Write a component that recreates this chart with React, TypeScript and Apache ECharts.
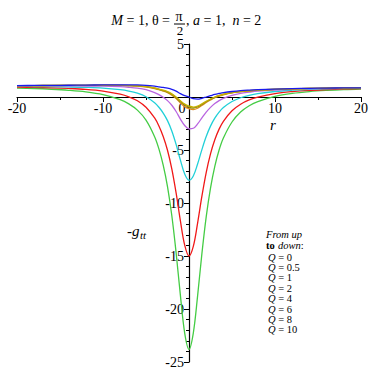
import React, { useEffect, useRef } from "react";
import * as echarts from "echarts";

const rValues = [-20, -18, -16, -14, -12, -10, -8, -7, -6, -5, -4, -3.5, -3, -2.5, -2, -1.5, -1, -0.5, 0, 0.5, 1, 1.5, 2, 2.5, 3, 3.5, 4, 5, 6, 7, 8, 10, 12, 14, 16, 18, 20];

const qLabels = ["0", "0.5", "1", "2", "4", "6", "8", "10"];

const gttQ0 = [1.08, 1.09, 1.10, 1.11, 1.12, 1.14, 1.15, 1.15, 1.14, 1.10, 1.02, 0.96, 0.90, 0.83, 0.72, 0.55, 0.32, 0.13, 0, -0.16, -0.20, -0.12, 0, 0.12, 0.24, 0.33, 0.41, 0.52, 0.60, 0.65, 0.69, 0.75, 0.79, 0.82, 0.84, 0.86, 0.87];
const gttQ05 = [1.07, 1.08, 1.09, 1.09, 1.10, 1.11, 1.10, 1.09, 1.06, 0.98, 0.85, 0.75, 0.64, 0.50, 0.30, 0.01, -0.36, -0.67, -0.85, -0.95, -0.86, -0.64, -0.40, -0.19, 0.00, 0.14, 0.26, 0.42, 0.53, 0.60, 0.65, 0.73, 0.77, 0.81, 0.83, 0.85, 0.87];
const gttQ1 = [1.07, 1.08, 1.09, 1.09, 1.09, 1.10, 1.09, 1.08, 1.045, 0.97, 0.83, 0.73, 0.61, 0.46, 0.245, -0.06, -0.44, -0.76, -0.95, -1.04, -0.94, -0.71, -0.45, -0.23, -0.03, 0.12, 0.24, 0.41, 0.52, 0.59, 0.645, 0.72, 0.77, 0.81, 0.83, 0.85, 0.865];
const gttQ2 = [1.07, 1.08, 1.08, 1.09, 1.09, 1.10, 1.09, 1.07, 1.03, 0.95, 0.80, 0.69, 0.56, 0.40, 0.17, -0.15, -0.56, -0.91, -1.10, -1.18, -1.06, -0.80, -0.52, -0.28, -0.07, 0.08, 0.21, 0.39, 0.51, 0.58, 0.64, 0.72, 0.77, 0.81, 0.83, 0.85, 0.86];
const gttQ4 = [1.05, 1.05, 1.05, 1.05, 1.04, 1.02, 0.97, 0.92, 0.84, 0.69, 0.42, 0.22, -0.02, -0.34, -0.78, -1.37, -2.08, -2.69, -3.0, -2.95, -2.54, -1.97, -1.43, -0.98, -0.62, -0.34, -0.13, 0.16, 0.35, 0.46, 0.55, 0.66, 0.73, 0.78, 0.81, 0.84, 0.855];
const gttQ6 = [1.00, 0.99, 0.98, 0.95, 0.91, 0.84, 0.69, 0.56, 0.355, 0.02, -0.55, -0.97, -1.52, -2.23, -3.2, -4.47, -5.96, -7.26, -7.85, -7.45, -6.32, -4.96, -3.73, -2.75, -2.0, -1.43, -1.0, -0.43, -0.07, 0.16, 0.32, 0.52, 0.64, 0.72, 0.77, 0.81, 0.83];
const gttQ8 = [0.93, 0.91, 0.87, 0.81, 0.72, 0.56, 0.27, 0.02, -0.36, -0.97, -1.98, -2.73, -3.72, -5.02, -6.78, -9.05, -11.68, -13.98, -15.0, -14.1, -11.9, -9.36, -7.13, -5.37, -4.04, -3.03, -2.29, -1.30, -0.68, -0.28, -0.02, 0.32, 0.51, 0.63, 0.70, 0.76, 0.80];
const gttQ10 = [0.84, 0.80, 0.73, 0.63, 0.48, 0.22, -0.25, -0.65, -1.24, -2.18, -3.74, -4.89, -6.43, -8.45, -11.18, -14.68, -18.72, -22.27, -23.8, -22.27, -18.76, -14.78, -11.31, -8.59, -6.54, -5.0, -3.87, -2.36, -1.42, -0.83, -0.43, 0.06, 0.34, 0.51, 0.62, 0.70, 0.75];

const seriesValues = [gttQ0, gttQ05, gttQ1, gttQ2, gttQ4, gttQ6, gttQ8, gttQ10];
const seriesColors = ["#1a1aee", "#c8b000", "#8a8a10", "#e08a20", "#b964e0", "#20d0d8", "#f01818", "#44cc44"];

const xTicks = [-20, -10, 0, 10, 20];
const yTicks = [5, -5, -10, -15, -20, -25];

const SERIF = "Liberation Serif, Times New Roman, serif";

// plot frame (pixels)
const PLOT_LEFT = 17;
const PLOT_RIGHT = 361;
const PLOT_TOP = 44;
const PLOT_BOTTOM = 362;
const X_MIN = -20, X_MAX = 20, Y_MIN = -25, Y_MAX = 5;

export default function App() {
  const ref = useRef<HTMLDivElement>(null);
  useEffect(() => {
    const chart = echarts.init(ref.current!, null, { renderer: "svg" });
    const series: any[] = [];
    for (let k = seriesValues.length - 1; k >= 0; k--) {
      series.push({
        type: "line",
        name: "Q = " + qLabels[k],
        data: rValues.map((r, i) => [r, seriesValues[k][i]]),
        showSymbol: false,
        smooth: 0.35,
        lineStyle: { color: seriesColors[k], width: 1.3 },
        itemStyle: { color: seriesColors[k] },
        z: 2 + (seriesValues.length - k),
      });
    }

    // offsets so that the axes cross at the origin
    const yZeroPx = PLOT_TOP + ((Y_MAX - 0) / (Y_MAX - Y_MIN)) * (PLOT_BOTTOM - PLOT_TOP);
    const xZeroPx = PLOT_LEFT + ((0 - X_MIN) / (X_MAX - X_MIN)) * (PLOT_RIGHT - PLOT_LEFT);
    const xAxisOffset = -(PLOT_BOTTOM - yZeroPx);
    const yAxisOffset = -(xZeroPx - PLOT_LEFT);

    const lg = (extra: any) => ({ fontFamily: SERIF, fontSize: 10.5, lineHeight: 10.4, fill: "#000", ...extra });

    const legendText = [
      "{i|From up}",
      "{bb|to} {i|down}{n|:}",
      ...qLabels.map((q) => "{qi|Q}{n| = " + q + "}"),
    ].join("\n");

    const option: any = {
      animation: false,
      backgroundColor: "#fff",
      grid: {
        left: PLOT_LEFT,
        right: 374 - PLOT_RIGHT,
        top: PLOT_TOP,
        bottom: 374 - PLOT_BOTTOM,
        containLabel: false,
        outerBoundsMode: "none",
      },
      xAxis: {
        type: "value",
        min: X_MIN,
        max: X_MAX,
        interval: 10,
        position: "bottom",
        offset: xAxisOffset,
        axisLine: { onZero: false, lineStyle: { color: "#000", width: 1.2 } },
        axisTick: { show: true, length: 5, lineStyle: { color: "#000" } },
        minorTick: { show: true, splitNumber: 2, length: 3, lineStyle: { color: "#000" } },
        splitLine: { show: false },
        axisLabel: {
          margin: 5,
          fontFamily: SERIF,
          fontSize: 14,
          lineHeight: 12,
          color: "#000",
          formatter: (v: number) => (xTicks.includes(v) ? (v === 0 ? "{z|0}" : String(v)) : ""),
          rich: { z: { fontFamily: SERIF, fontSize: 14, lineHeight: 12, color: "#000", padding: [0, 14, 0, 0] } },
        },
      },
      yAxis: {
        type: "value",
        min: Y_MIN,
        max: Y_MAX,
        interval: 5,
        position: "left",
        offset: yAxisOffset,
        axisLine: { onZero: false, lineStyle: { color: "#000", width: 1.2 } },
        axisTick: { show: true, length: 5, lineStyle: { color: "#000" } },
        minorTick: { show: true, splitNumber: 5, length: 3, lineStyle: { color: "#000" } },
        splitLine: { show: false },
        axisLabel: {
          margin: 5,
          fontFamily: SERIF,
          fontSize: 14,
          lineHeight: 12,
          color: "#000",
          formatter: (v: number) => (yTicks.includes(v) ? String(v) : ""),
        },
      },
      series,
      graphic: [
        {
          type: "text",
          x: 170,
          y: 20,
          style: {
            text: "{i|M}{n| = 1, θ =}",
            align: "right",
            verticalAlign: "middle",
            rich: {
              i: { fontFamily: SERIF, fontStyle: "italic", fontSize: 14, lineHeight: 12, fill: "#000" },
              n: { fontFamily: SERIF, fontSize: 14, lineHeight: 12, fill: "#000" },
            },
          },
        },
        {
          type: "text",
          x: 179,
          y: 16.5,
          style: { text: "π", align: "center", verticalAlign: "middle", fontFamily: SERIF, fontSize: 14, lineHeight: 10, fill: "#000" },
        },
        {
          type: "line",
          shape: { x1: 174, y1: 24, x2: 185, y2: 24 },
          style: { stroke: "#000", lineWidth: 1 },
        },
        {
          type: "text",
          x: 180,
          y: 30.5,
          style: { text: "2", align: "center", verticalAlign: "middle", fontFamily: SERIF, fontSize: 13, lineHeight: 10, fill: "#000" },
        },
        {
          type: "text",
          x: 186,
          y: 20,
          style: {
            text: "{n|, }{i|a}{n| = 1,  }{i|n}{n| = 2}",
            align: "left",
            verticalAlign: "middle",
            rich: {
              i: { fontFamily: SERIF, fontStyle: "italic", fontSize: 14, lineHeight: 12, fill: "#000" },
              n: { fontFamily: SERIF, fontSize: 14, lineHeight: 12, fill: "#000" },
            },
          },
        },
        {
          type: "text",
          x: 273,
          y: 125,
          style: { text: "r", align: "center", verticalAlign: "middle", fontFamily: SERIF, fontStyle: "italic", fontSize: 15, fill: "#000" },
        },
        {
          type: "text",
          x: 127,
          y: 231,
          style: { text: "-g", align: "left", verticalAlign: "middle", fontFamily: SERIF, fontStyle: "italic", fontSize: 15, lineHeight: 12, fill: "#000" },
        },
        {
          type: "text",
          x: 140,
          y: 235,
          style: { text: "tt", align: "left", verticalAlign: "middle", fontFamily: SERIF, fontStyle: "italic", fontSize: 11, lineHeight: 9, fill: "#000" },
        },
        {
          type: "text",
          x: 266,
          y: 229.5,
          style: {
            text: legendText,
            align: "left",
            verticalAlign: "top",
            rich: {
              i: lg({ fontStyle: "italic" }),
              bb: lg({ fontWeight: "bold" }),
              n: lg({}),
              qi: lg({ fontStyle: "italic", padding: [0, 0, 0, 2] }),
            },
          },
        },
      ],
    };
    chart.setOption(option);
    return () => chart.dispose();
  }, []);
  return <div ref={ref} style={{ position: "fixed", left: 0, top: 0, width: 374, height: 374 }} />;
}
